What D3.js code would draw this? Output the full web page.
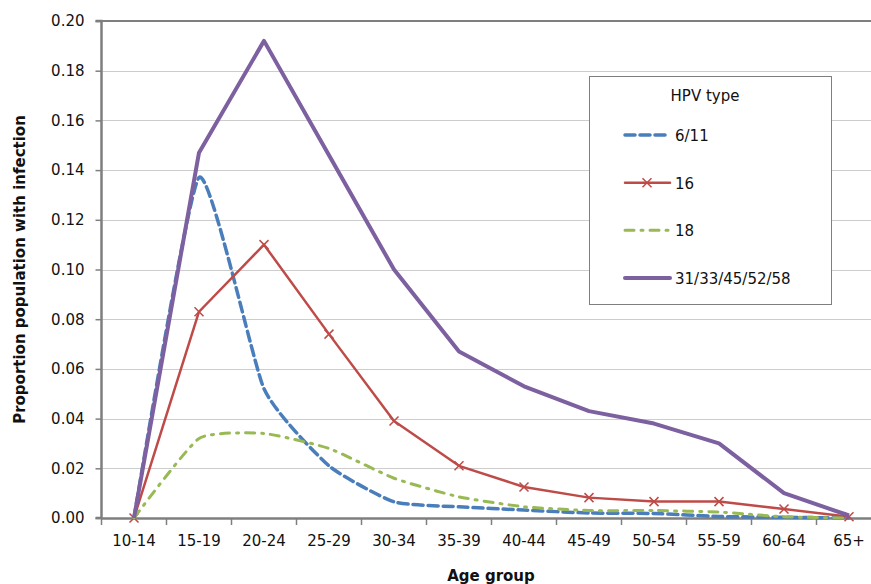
<!DOCTYPE html>
<html>
<head>
<meta charset="utf-8">
<script src="https://cdn.jsdelivr.net/npm/d3@7"></script>
<style>
  body { margin: 0; background: #fff; }
  text { font-family: "DejaVu Sans", sans-serif; fill: #111; }
</style>
</head>
<body>
<svg id="chart" width="871" height="584"></svg>
<script>
const ageGroups = ['10-14', '15-19', '20-24', '25-29', '30-34', '35-39', '40-44', '45-49', '50-54', '55-59', '60-64', '65+'];
const yTicks = [0, 0.02, 0.04, 0.06, 0.08, 0.10, 0.12, 0.14, 0.16, 0.18, 0.20];

const hpv611 = [0, 0.137, 0.052, 0.021, 0.0065, 0.0045, 0.0032, 0.002, 0.0018, 0.0006, 0.0003, 0];
const hpv16 = [0, 0.083, 0.110, 0.074, 0.039, 0.021, 0.0125, 0.0082, 0.0066, 0.0066, 0.0036, 0.0005];
const hpv18 = [0, 0.032, 0.034, 0.028, 0.016, 0.0085, 0.0045, 0.003, 0.003, 0.0024, 0.0005, 0];
const hpvOther = [0, 0.147, 0.192, 0.146, 0.100, 0.067, 0.053, 0.043, 0.038, 0.030, 0.010, 0.001];

const seriesNames = ['6/11', '16', '18', '31/33/45/52/58'];

const series = [
  {name: seriesNames[0], values: hpv611, color: '#4a7ebb', width: 3.5, dash: '10,5', smooth: true},
  {name: seriesNames[1], values: hpv16, color: '#be4b48', width: 2.5, dash: null, smooth: false, marker: true},
  {name: seriesNames[2], values: hpv18, color: '#98b954', width: 3, dash: '9,7,2,7', smooth: true},
  {name: seriesNames[3], values: hpvOther, color: '#7d60a0', width: 4, dash: null, smooth: false}
];

const margin = {left: 101.5, top: 21, right: -10.5, bottom: 66};
const svg = d3.select('#chart');
const W = 871, H = 584;

const x = d3.scaleBand()
  .domain(ageGroups)
  .range([margin.left, W - margin.right]);

const y = d3.scaleLinear()
  .domain([0, 0.20])
  .range([H - margin.bottom, margin.top]);

// gridlines
svg.append('g')
  .selectAll('line')
  .data(yTicks.filter(d => d > 0 && d < 0.2))
  .join('line')
  .attr('x1', margin.left)
  .attr('x2', W)
  .attr('y1', d => Math.round(y(d)) + 0.5)
  .attr('y2', d => Math.round(y(d)) + 0.5)
  .style('stroke', '#9a9a9a')
  .style('stroke-width', 1)
  .style('stroke-dasharray', '1,1');

// top border of plot area
svg.append('line')
  .attr('x1', margin.left)
  .attr('x2', W)
  .attr('y1', y(0.2))
  .attr('y2', y(0.2))
  .style('stroke', '#7f7f7f')
  .style('stroke-width', 2);

// y axis
const yAxis = svg.append('g')
  .attr('transform', `translate(${margin.left},0)`)
  .call(d3.axisLeft(y).tickValues(yTicks).tickFormat(d3.format('.2f')).tickSize(6).tickPadding(11));

// x axis
const xAxis = svg.append('g')
  .attr('transform', `translate(0,${y(0)})`)
  .call(d3.axisBottom(x).tickSize(0).tickPadding(17));

// x tick marks at band boundaries
svg.append('g')
  .selectAll('line')
  .data(ageGroups)
  .join('line')
  .attr('x1', d => x(d))
  .attr('x2', d => x(d))
  .attr('y1', y(0))
  .attr('y2', y(0) + 7)
  .style('stroke', '#7f7f7f')
  .style('stroke-width', 1.5);

[yAxis, xAxis].forEach(ax => {
  ax.select('.domain').style('stroke', '#7f7f7f').style('stroke-width', 2.5);
  ax.selectAll('.tick line').style('stroke', '#7f7f7f').style('stroke-width', 1.5);
  ax.selectAll('.tick text').style('font-size', '15px').style('font-family', '"DejaVu Sans", sans-serif').style('fill', '#111');
});
yAxis.select('.domain').attr('d', `M-6,${y(0)}H0V${y(0.2)}H-6`);

const cx = d => x(d) + x.bandwidth() / 2;

// series lines (smoothed ones mimic the spreadsheet's mild smoothing)
series.forEach(s => {
  const line = d3.line()
    .x((d, i) => cx(ageGroups[i]))
    .y(d => y(d))
    .curve(s.smooth ? d3.curveCardinal.tension(0.5) : d3.curveLinear);

  svg.append('path')
    .datum(s.values)
    .attr('d', line)
    .style('fill', 'none')
    .style('stroke', s.color)
    .style('stroke-width', s.width)
    .style('stroke-linejoin', 'round')
    .style('stroke-dasharray', s.dash)
    .style('stroke-linecap', s.dash ? 'round' : 'butt');

  if (s.marker) {
    svg.append('g')
      .selectAll('path')
      .data(s.values)
      .join('path')
      .attr('transform', (d, i) => `translate(${cx(ageGroups[i])},${y(d)})`)
      .attr('d', 'M-4.5,-4.5L4.5,4.5M-4.5,4.5L4.5,-4.5')
      .style('stroke', s.color)
      .style('stroke-width', 1.5);
  }
});

// legend
const legend = svg.append('g');
legend.append('rect')
  .attr('x', 589.5)
  .attr('y', 76.5)
  .attr('width', 242)
  .attr('height', 228)
  .style('fill', '#fff')
  .style('stroke', '#7f7f7f')
  .style('stroke-width', 1);

legend.append('text')
  .attr('x', 705)
  .attr('y', 101)
  .attr('text-anchor', 'middle')
  .style('font-size', '15px')
  .text('HPV type');

const legendY = d3.scalePoint()
  .domain(seriesNames)
  .range([135, 278]);

series.forEach(s => {
  const ly = legendY(s.name);
  legend.append('line')
    .attr('x1', 625)
    .attr('x2', 670)
    .attr('y1', ly)
    .attr('y2', ly)
    .style('stroke', s.color)
    .style('stroke-width', s.width)
    .style('stroke-dasharray', s.dash)
    .style('stroke-linecap', 'round');
  if (s.marker) {
    legend.append('path')
      .attr('transform', `translate(647,${ly})`)
      .attr('d', 'M-4.5,-4.5L4.5,4.5M-4.5,4.5L4.5,-4.5')
      .style('stroke', s.color)
      .style('stroke-width', 1.5);
  }
  legend.append('text')
    .attr('x', 675)
    .attr('y', ly + 6)
    .style('font-size', '15px')
    .text(s.name);
});

// axis titles
svg.append('text')
  .attr('transform', `translate(25,${(y(0) + y(0.2)) / 2}) rotate(-90)`)
  .attr('text-anchor', 'middle')
  .style('font-size', '15px')
  .style('font-weight', 'bold')
  .text('Proportion population with infection');

svg.append('text')
  .attr('x', 491)
  .attr('y', 581)
  .attr('text-anchor', 'middle')
  .style('font-size', '15px')
  .style('font-weight', 'bold')
  .text('Age group');
</script>
</body>
</html>
